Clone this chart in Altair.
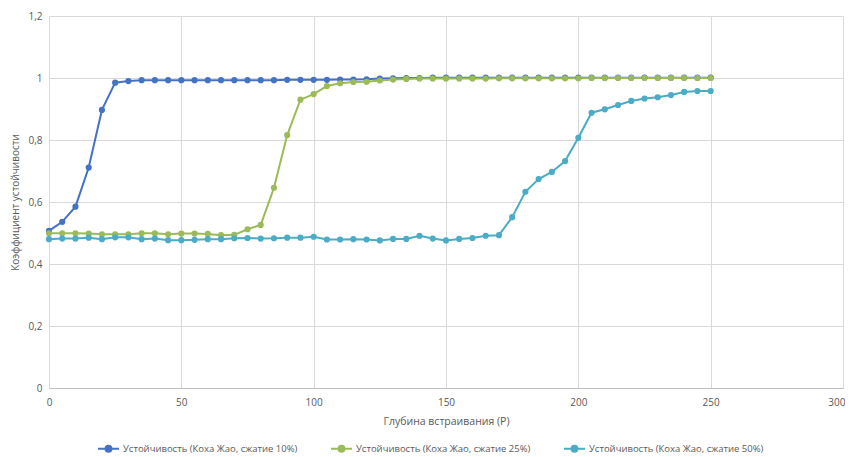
import altair as alt
import pandas as pd

depth = [0, 5, 10, 15, 20, 25, 30, 35, 40, 45, 50, 55, 60, 65, 70, 75, 80, 85, 90, 95,
         100, 105, 110, 115, 120, 125, 130, 135, 140, 145, 150, 155, 160, 165, 170, 175,
         180, 185, 190, 195, 200, 205, 210, 215, 220, 225, 230, 235, 240, 245, 250]

s10 = [0.507, 0.536, 0.585, 0.711, 0.897, 0.985, 0.990, 0.993, 0.993, 0.993, 0.993, 0.993,
       0.993, 0.993, 0.993, 0.993, 0.993, 0.993, 0.994, 0.994, 0.994, 0.994, 0.995, 0.995,
       0.996, 0.998, 0.999, 1.000, 1.000, 1.001, 1.001, 1.001, 1.001, 1.001, 1.001, 1.001,
       1.001, 1.001, 1.001, 1.001, 1.001, 1.001, 1.001, 1.001, 1.001, 1.001, 1.001, 1.001,
       1.001, 1.001, 1.001]

s25 = [0.499, 0.499, 0.499, 0.498, 0.496, 0.496, 0.496, 0.499, 0.499, 0.496, 0.498, 0.498,
       0.497, 0.493, 0.494, 0.512, 0.526, 0.646, 0.816, 0.930, 0.948, 0.974, 0.983, 0.987,
       0.988, 0.992, 0.995, 0.997, 0.998, 0.998, 0.998, 0.998, 0.998, 0.998, 0.999, 0.999,
       0.999, 0.999, 0.999, 0.999, 0.999, 1.000, 1.000, 1.000, 1.000, 1.000, 1.000, 1.000,
       1.000, 1.000, 1.000]

s50 = [0.480, 0.482, 0.482, 0.485, 0.480, 0.486, 0.486, 0.480, 0.482, 0.477, 0.477, 0.478,
       0.480, 0.480, 0.483, 0.484, 0.482, 0.483, 0.485, 0.485, 0.488, 0.479, 0.479, 0.480,
       0.479, 0.476, 0.481, 0.481, 0.491, 0.482, 0.476, 0.481, 0.484, 0.491, 0.493, 0.551,
       0.633, 0.674, 0.697, 0.732, 0.807, 0.888, 0.899, 0.913, 0.926, 0.934, 0.938, 0.945,
       0.955, 0.958, 0.958]

names = ["Устойчивость (Коха Жао, сжатие 10%)",
         "Устойчивость (Коха Жао, сжатие 25%)",
         "Устойчивость (Коха Жао, сжатие 50%)"]
colors = ["#4472C4", "#9BBB59", "#4BACC6"]
x_ticks = [0, 50, 100, 150, 200, 250, 300]
y_ticks = [0, 0.2, 0.4, 0.6, 0.8, 1.0, 1.2]

rows = []
for name, vals in zip(names, [s10, s25, s50]):
    for d, v in zip(depth, vals):
        rows.append({"depth": d, "value": v, "series": name})
df = pd.DataFrame(rows)

FONT = "Open Sans"
GREY = "#595959"

legend_symbol = "M-1,0H1M0.28,0A0.28,0.28,0,1,1,-0.28,0A0.28,0.28,0,1,1,0.28,0Z"

color = alt.Color(
    "series:N",
    sort=names,
    scale=alt.Scale(domain=names, range=colors),
    legend=alt.Legend(
        title=None,
        orient="none",
        direction="horizontal",
        legendX=48,
        legendY=421,
        symbolType=legend_symbol,
        symbolSize=441,
        symbolStrokeWidth=2,
        symbolOpacity=1,
        labelFont=FONT,
        labelFontSize=9.5,
        labelColor=GREY,
        labelOffset=3,
        labelLimit=0,
        columnPadding=29,
    ),
)

base = alt.Chart(df).encode(
    x=alt.X(
        "depth:Q",
        scale=alt.Scale(domain=[0, 300], nice=False),
        axis=alt.Axis(
            values=x_ticks,
            title="Глубина встраивания (P)",
            grid=True,
            gridColor="#d9d9d9",
            domainColor="#bfbfbf",
            ticks=False,
            labelColor=GREY,
            labelFont=FONT,
            labelFontSize=10,
            labelPadding=9,
            labelFlush=False,
            labelAlign={"condition": {"test": "datum.value == 300", "value": "right"},
                        "value": "center"},
            labelOffset={"condition": {"test": "datum.value == 300", "value": 2},
                         "value": 0},
            titleColor=GREY,
            titleFont=FONT,
            titleFontSize=10.5,
            titleFontWeight="normal",
            titleBaseline="middle",
            titleY=33,
        ),
    ),
    y=alt.Y(
        "value:Q",
        scale=alt.Scale(domain=[0, 1.2], nice=False),
        axis=alt.Axis(
            values=y_ticks,
            title="Коэффициент устойчивости",
            grid=True,
            gridColor="#d9d9d9",
            domain=False,
            ticks=False,
            labelColor=GREY,
            labelFont=FONT,
            labelFontSize=10,
            labelPadding=7,
            labelFlush=False,
            labelExpr="replace(format(datum.value, '~g'), '.', ',')",
            titleColor=GREY,
            titleFont=FONT,
            titleFontSize=10,
            titleFontWeight="normal",
            titleBaseline="middle",
            titleX=-34,
        ),
    ),
    color=color,
)

lines = base.mark_line(strokeWidth=2)
points = base.mark_point(filled=True, size=38, opacity=1)

chart = (
    alt.layer(lines, points)
    .properties(
        width=794,
        height=372,
        autosize=alt.AutoSizeParams(type="none"),
        padding={"left": 41, "top": 8, "right": 2, "bottom": 72},
    )
    .configure_view(stroke=None)
)

chart.save("out.html", embed_options={"renderer": "svg", "actions": False})
